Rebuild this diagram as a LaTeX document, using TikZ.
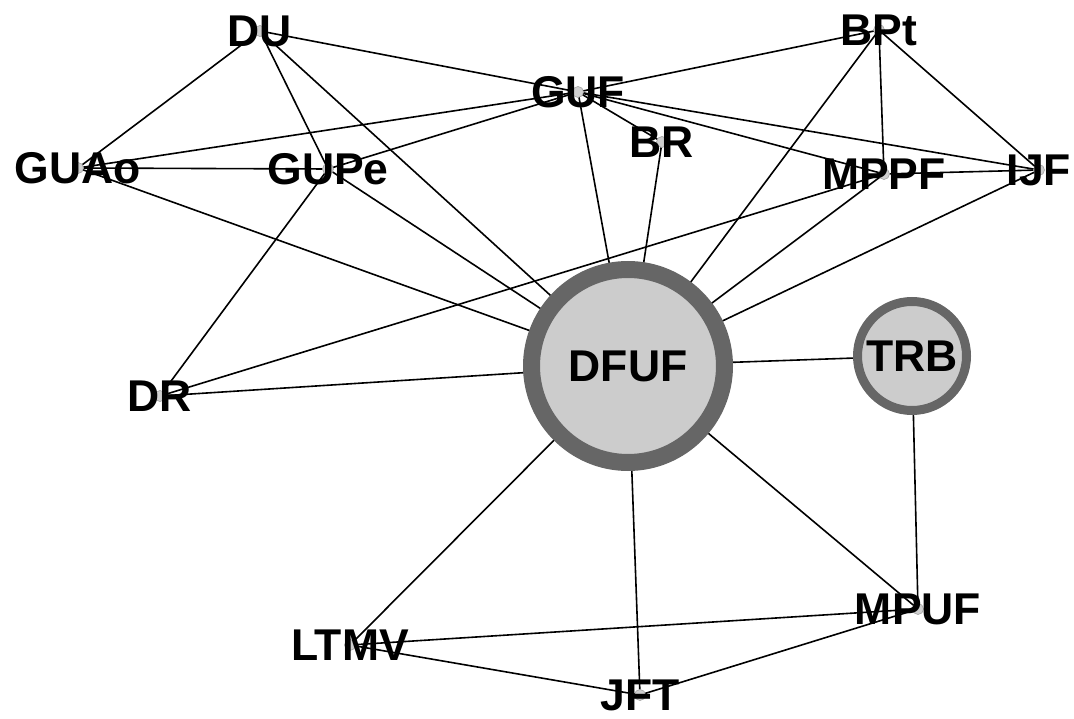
\documentclass[tikz,border=0pt]{standalone}
\usepackage{fontspec}
\setmainfont{Liberation Sans}
\definecolor{ringgray}{HTML}{666666}
\definecolor{fillgray}{HTML}{CCCCCC}
\definecolor{dotgray}{HTML}{CFCFCF}
\definecolor{dotedge}{HTML}{A8A8A8}
\pgfdeclarelayer{edges}
\pgfsetlayers{edges,main}
\tikzset{
  lbl/.style={inner sep=0pt, text depth=0pt, font=\fontsize{44.5}{44.5}\selectfont\bfseries, text=black},
  dot/.style={circle, inner sep=0pt, minimum size=11pt, fill=dotgray, draw=dotedge, line width=0.7pt},
  link/.style={draw=black, line width=1.6pt},
  hub/.style={circle, inner sep=0pt, fill=fillgray, draw=ringgray}
}
\begin{document}
\begin{tikzpicture}[x=1pt,y=-1pt]
\useasboundingbox (0,0) rectangle (1074,719);
% node positions
\coordinate (DU)   at (260,31);
\coordinate (GUAo) at (78,168);
\coordinate (GUPe) at (328,169);
\coordinate (GUF)  at (578,92);
\coordinate (BR)   at (662,142);
\coordinate (BPt)  at (879,30);
\coordinate (MPPF) at (884,174);
\coordinate (IJF)  at (1039,170);
\coordinate (DR)   at (160,396);
\coordinate (DFUF) at (628,366);
\coordinate (TRB)  at (912,356);
\coordinate (LTMV) at (350,645);
\coordinate (JFT)  at (640,695);
\coordinate (MPUF) at (918,609);

% connectors
\begin{pgfonlayer}{edges}
\foreach \a/\b in {DU/GUAo, DU/GUF, DU/GUPe, DU/DFUF,
                   GUAo/GUPe, GUAo/GUF, GUAo/DFUF,
                   GUPe/GUF, GUPe/DFUF, GUPe/DR,
                   GUF/BPt, GUF/BR, GUF/MPPF, GUF/IJF, GUF/DFUF,
                   BR/DFUF,
                   BPt/MPPF, BPt/IJF, BPt/DFUF,
                   MPPF/IJF, MPPF/DFUF, MPPF/DR,
                   IJF/DFUF, DR/DFUF,
                   DFUF/TRB, DFUF/LTMV, DFUF/JFT, DFUF/MPUF,
                   TRB/MPUF, LTMV/MPUF, LTMV/JFT, JFT/MPUF}
  \draw[link] (\a) -- (\b);
\end{pgfonlayer}

% small nodes: marker with its label on top
\foreach \n in {DU, GUAo, GUPe, GUF, BR, BPt, MPPF, IJF, DR, LTMV, JFT, MPUF}{
  \node[dot] (\n-d) at (\n) {};
  \node[lbl] (\n-l) at (\n) {\n};
}

% large nodes
\node[hub, minimum size=193pt, line width=17pt] (DFUF-d) at (DFUF) {};
\node[lbl] (DFUF-l) at (DFUF) {DFUF};
\node[hub, minimum size=109pt, line width=9pt] (TRB-d) at (TRB) {};
\node[lbl] (TRB-l) at (TRB) {TRB};
\end{tikzpicture}
\end{document}
